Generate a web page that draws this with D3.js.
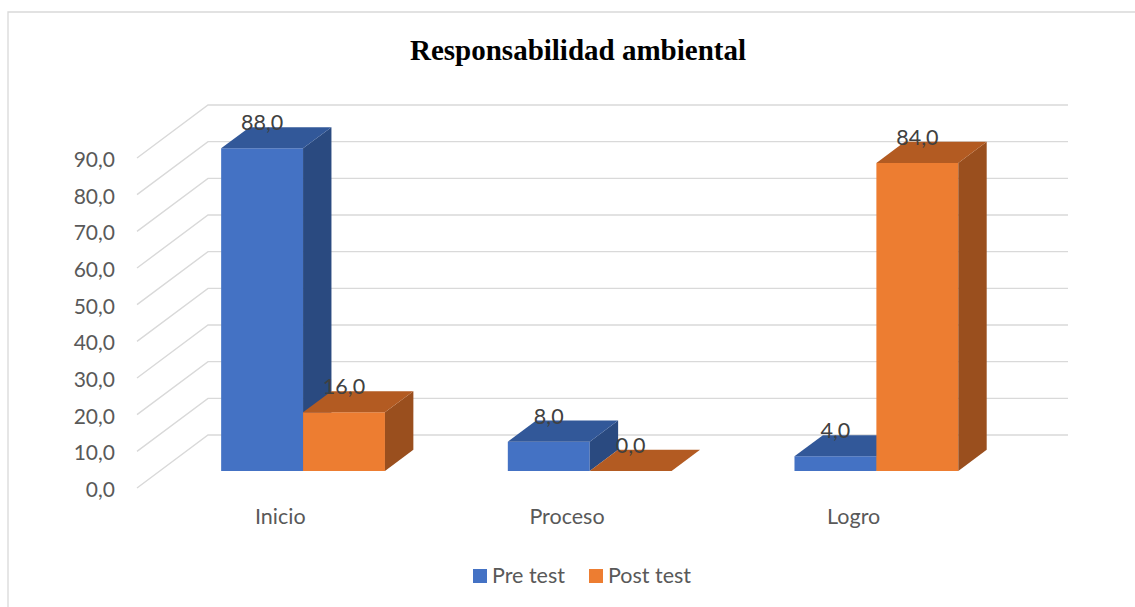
<!DOCTYPE html>
<html>
<head>
<meta charset="utf-8">
<script src="https://cdn.jsdelivr.net/npm/d3@7/dist/d3.min.js"></script>
<style>
  html, body { margin: 0; padding: 0; background: #ffffff; }
  svg { display: block; }
</style>
</head>
<body>
<svg id="chart" width="1135" height="607"></svg>
<script>
// ---- data ----
const title = "Responsabilidad ambiental";
const categories = ["Inicio", "Proceso", "Logro"];
const seriesNames = ["Pre test", "Post test"];
const preTest = [88.0, 8.0, 4.0];
const postTest = [16.0, 0.0, 84.0];
const tickValues = [0, 10, 20, 30, 40, 50, 60, 70, 80, 90];

// ---- styling ----
const frontColors = ["#4472C4", "#ED7D31"];
const topColors = ["#325899", "#B35B22"];
const sideColors = ["#2A4A80", "#9A4F1E"];
const gridColor = "#D9D9D9";
const font = "Lato, 'Open Sans', sans-serif";

const svg = d3.select("#chart");
const W = 1135, H = 607;

// chart frame border (left and top visible)
svg.append("path")
  .attr("d", `M8,${H + 5} L8,12 L${W + 5},12`)
  .attr("fill", "none").attr("stroke", gridColor).attr("stroke-width", 1.3);

// 3D projection parameters
const DX = 71, DY = 53;            // full depth offset
const dFront = 0.32, dBack = 0.72; // bar depth span

const y = d3.scaleLinear().domain([0, 90]).range([488, 158]);
const x = d3.scaleBand().domain(categories).range([137, 997]).paddingInner(0).paddingOuter(0);
const xs = d3.scaleBand().domain(seriesNames).range([0, x.bandwidth()]).paddingInner(0).paddingOuter(0.75);

function P(px, v, d) { return [px + d * DX, y(v) - d * DY]; }

// gridlines: back wall + left side wall diagonals
const g = svg.append("g");
tickValues.forEach(v => {
  const f = P(137, v, 0), b = P(137, v, 1), br = P(997, v, 1);
  g.append("path")
    .attr("d", `M${f[0]},${f[1]} L${b[0]},${b[1]} L${br[0]},${br[1]}`)
    .attr("fill", "none").attr("stroke", gridColor).attr("stroke-width", 1.4);
});

// y-axis labels
const fmt = v => d3.format(".1f")(v).replace(".", ",");
svg.append("g").selectAll("text").data(tickValues).join("text")
  .attr("x", 115).attr("y", d => y(d) + 9)
  .attr("text-anchor", "end")
  .attr("font-family", font).attr("font-size", 21).attr("fill", "#595959")
  .text(d => fmt(d));

// bars
const data = [];
categories.forEach((c, i) => {
  data.push({ cat: c, s: 0, v: preTest[i] });
  data.push({ cat: c, s: 1, v: postTest[i] });
});

const bars = svg.append("g");
data.forEach(d => {
  const x0 = x(d.cat) + xs(seriesNames[d.s]);
  const x1 = x0 + xs.bandwidth();
  const pts = a => a.map(p => p.join(",")).join(" ");
  const fbl = P(x0, 0, dFront), fbr = P(x1, 0, dFront);
  const ftl = P(x0, d.v, dFront), ftr = P(x1, d.v, dFront);
  const btl = P(x0, d.v, dBack), btr = P(x1, d.v, dBack);
  const bbr = P(x1, 0, dBack);
  if (d.v > 0) {
    bars.append("polygon").attr("points", pts([fbl, fbr, ftr, ftl]))
      .attr("fill", frontColors[d.s]);
    bars.append("polygon").attr("points", pts([fbr, bbr, btr, ftr]))
      .attr("fill", sideColors[d.s]);
  }
  bars.append("polygon").attr("points", pts([ftl, ftr, btr, btl]))
    .attr("fill", topColors[d.s]);
});

// value labels
svg.append("g").selectAll("text").data(data).join("text")
  .attr("x", d => P(x(d.cat) + xs(seriesNames[d.s]) + xs.bandwidth() / 2, d.v, dFront)[0])
  .attr("y", d => P(0, d.v, dFront)[1] - 18)
  .attr("text-anchor", "middle")
  .attr("font-family", font).attr("font-size", 21.5).attr("fill", "#404040")
  .text(d => fmt(d.v));

// category labels
svg.append("g").selectAll("text").data(categories).join("text")
  .attr("x", d => x(d) + x.bandwidth() / 2)
  .attr("y", 524)
  .attr("text-anchor", "middle")
  .attr("font-family", font).attr("font-size", 21.5).attr("fill", "#595959")
  .text(d => d);

// title
svg.append("text")
  .attr("x", 578).attr("y", 60)
  .attr("text-anchor", "middle")
  .attr("font-family", "'Liberation Serif', 'Times New Roman', serif")
  .attr("font-weight", "bold").attr("font-size", 29).attr("fill", "#000000")
  .text(title);

// legend
const legendX = [473, 589];
const leg = svg.append("g");
seriesNames.forEach((s, i) => {
  leg.append("rect").attr("x", legendX[i]).attr("y", 569).attr("width", 14).attr("height", 14)
    .attr("fill", frontColors[i]);
  leg.append("text").attr("x", legendX[i] + 19).attr("y", 583)
    .attr("font-family", font).attr("font-size", 21.5).attr("fill", "#595959")
    .text(s);
});
</script>
</body>
</html>
